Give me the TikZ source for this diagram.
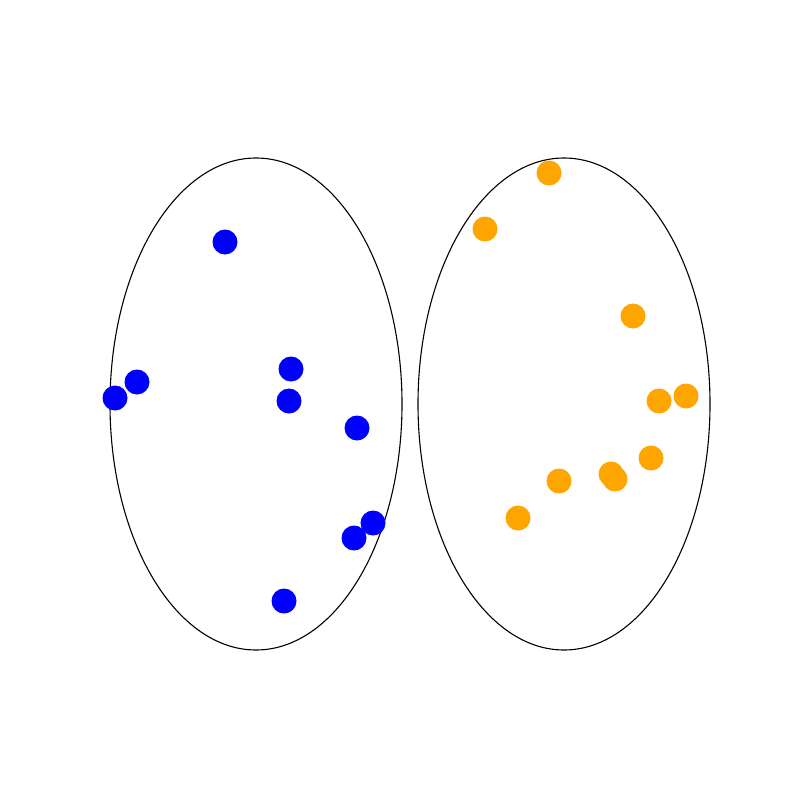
\documentclass[tikz,border=0pt]{standalone}
\begin{document}
\begin{tikzpicture}[x=1pt,y=-1pt,
  ring/.style={draw=black,line width=1.1pt},
  bdot/.style={circle,fill=blue,inner sep=0pt,minimum size=25pt},
  odot/.style={circle,fill=orange,inner sep=0pt,minimum size=25pt}]
\useasboundingbox (0,0) rectangle (800,800);
\definecolor{orange}{RGB}{255,165,0}
\definecolor{blue}{RGB}{0,0,255}
\draw[ring] (256,404) ellipse [x radius=146, y radius=246];
\draw[ring] (564,404) ellipse [x radius=146, y radius=246];
\foreach \x/\y [count=\i] in {225/242,137/382,115/398,291/369,289/401,357/428,373/523,354/538,284/601}
  \node[bdot] (b\i) at (\x,\y) {};
\foreach \x/\y [count=\i] in {549/173,485/229,633/316,659/401,686/396,651/458,559/481,611/474,615/479,518/518}
  \node[odot] (o\i) at (\x,\y) {};
\end{tikzpicture}
\end{document}
